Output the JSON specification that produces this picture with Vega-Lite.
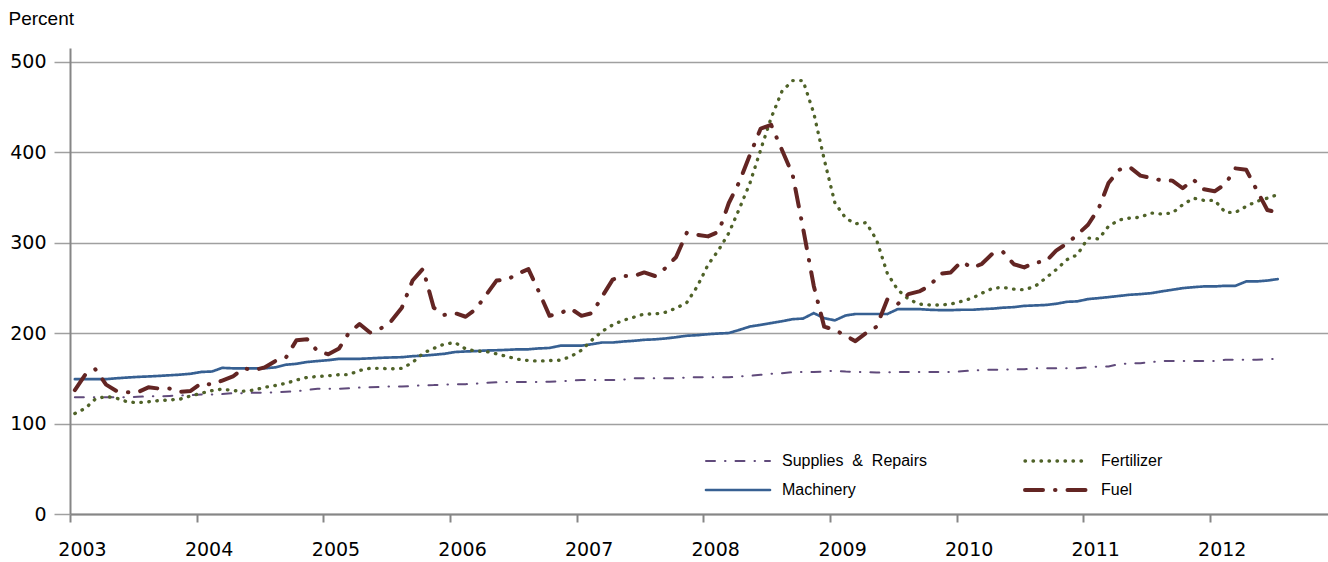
{
  "$schema": "https://vega.github.io/schema/vega-lite/v6.json",
  "width": 1258,
  "height": 466,
  "autosize": {"type": "none"},
  "padding": {"left": 70, "top": 48, "right": 0, "bottom": 48},
  "background": "#ffffff",
  "config": {
    "view": {"stroke": null},
    "font": "Liberation Sans"
  },
  "data": {
    "values": [
      {"date":"2003-01-15","sup":129,"mach":149,"fert":111,"fuel":137},
      {"date":"2003-02-15","sup":129,"mach":149,"fert":117,"fuel":154.5},
      {"date":"2003-03-15","sup":129,"mach":149,"fert":127,"fuel":160},
      {"date":"2003-04-15","sup":129,"mach":149,"fert":130,"fuel":143},
      {"date":"2003-05-15","sup":129,"mach":150,"fert":128,"fuel":136},
      {"date":"2003-06-15","sup":129,"mach":150.8,"fert":124,"fuel":134.6},
      {"date":"2003-07-15","sup":129.5,"mach":151.5,"fert":123,"fuel":134.6},
      {"date":"2003-08-15","sup":130,"mach":152,"fert":124,"fuel":140},
      {"date":"2003-09-15","sup":130,"mach":152.6,"fert":125.4,"fuel":138.6},
      {"date":"2003-10-15","sup":130.5,"mach":153.3,"fert":126,"fuel":138.6},
      {"date":"2003-11-15","sup":131,"mach":154,"fert":127,"fuel":135},
      {"date":"2003-12-15","sup":131.5,"mach":155,"fert":130.5,"fuel":136},
      {"date":"2004-01-15","sup":132,"mach":157,"fert":133.5,"fuel":144.5},
      {"date":"2004-02-15","sup":132,"mach":157.5,"fert":136.4,"fuel":143},
      {"date":"2004-03-15","sup":132.5,"mach":161.5,"fert":138,"fuel":147.5},
      {"date":"2004-04-15","sup":133.5,"mach":161,"fert":136.4,"fuel":152},
      {"date":"2004-05-15","sup":133.5,"mach":161,"fert":135.7,"fuel":161},
      {"date":"2004-06-15","sup":134,"mach":161,"fert":137,"fuel":159},
      {"date":"2004-07-15","sup":134,"mach":161,"fert":140,"fuel":162},
      {"date":"2004-08-15","sup":134.5,"mach":162,"fert":142,"fuel":169},
      {"date":"2004-09-15","sup":135,"mach":165,"fert":144.5,"fuel":173},
      {"date":"2004-10-15","sup":135.7,"mach":166,"fert":148,"fuel":192},
      {"date":"2004-11-15","sup":137,"mach":168,"fert":151,"fuel":193},
      {"date":"2004-12-15","sup":138.5,"mach":169,"fert":152,"fuel":180},
      {"date":"2005-01-15","sup":138.5,"mach":170,"fert":152.7,"fuel":176.5},
      {"date":"2005-02-15","sup":138.5,"mach":171.5,"fert":154,"fuel":183},
      {"date":"2005-03-15","sup":139,"mach":171.5,"fert":154,"fuel":200},
      {"date":"2005-04-15","sup":139.7,"mach":171.5,"fert":158.6,"fuel":210},
      {"date":"2005-05-15","sup":140,"mach":172,"fert":161,"fuel":200.5},
      {"date":"2005-06-15","sup":140.5,"mach":172.6,"fert":161,"fuel":205},
      {"date":"2005-07-15","sup":141,"mach":173,"fert":160.4,"fuel":213},
      {"date":"2005-08-15","sup":141,"mach":173.3,"fert":161,"fuel":228},
      {"date":"2005-09-15","sup":141.5,"mach":174.4,"fert":167.4,"fuel":258},
      {"date":"2005-10-15","sup":142.3,"mach":175,"fert":177.7,"fuel":271},
      {"date":"2005-11-15","sup":142.5,"mach":176,"fert":183,"fuel":228},
      {"date":"2005-12-15","sup":143,"mach":177,"fert":187.7,"fuel":220},
      {"date":"2006-01-15","sup":143.4,"mach":179,"fert":189.5,"fuel":222},
      {"date":"2006-02-15","sup":143.5,"mach":179.6,"fert":182.5,"fuel":218},
      {"date":"2006-03-15","sup":144,"mach":180,"fert":180,"fuel":226},
      {"date":"2006-04-15","sup":145,"mach":180.7,"fert":179.6,"fuel":242},
      {"date":"2006-05-15","sup":145.5,"mach":181,"fert":177,"fuel":258},
      {"date":"2006-06-15","sup":146,"mach":181.4,"fert":174,"fuel":259},
      {"date":"2006-07-15","sup":146,"mach":182,"fert":171,"fuel":265.5},
      {"date":"2006-08-15","sup":146,"mach":182,"fert":169.6,"fuel":270.7},
      {"date":"2006-09-15","sup":146,"mach":183,"fert":169,"fuel":245},
      {"date":"2006-10-15","sup":146.2,"mach":183.5,"fert":169.6,"fuel":219},
      {"date":"2006-11-15","sup":146.5,"mach":186,"fert":170,"fuel":222},
      {"date":"2006-12-15","sup":147.5,"mach":186,"fert":174,"fuel":227},
      {"date":"2007-01-15","sup":148,"mach":186,"fert":181,"fuel":219},
      {"date":"2007-02-15","sup":148,"mach":187.7,"fert":192.5,"fuel":222},
      {"date":"2007-03-15","sup":148,"mach":189.5,"fert":201.7,"fuel":240},
      {"date":"2007-04-15","sup":148,"mach":189.5,"fert":209,"fuel":259},
      {"date":"2007-05-15","sup":148.5,"mach":190.6,"fert":214,"fuel":263},
      {"date":"2007-06-15","sup":150,"mach":191.4,"fert":217.5,"fuel":263},
      {"date":"2007-07-15","sup":150,"mach":192.5,"fert":221,"fuel":267},
      {"date":"2007-08-15","sup":150,"mach":193,"fert":221,"fuel":263},
      {"date":"2007-09-15","sup":150,"mach":194,"fert":223,"fuel":272},
      {"date":"2007-10-15","sup":150,"mach":195.4,"fert":227.5,"fuel":284},
      {"date":"2007-11-15","sup":151,"mach":197,"fert":233.8,"fuel":311},
      {"date":"2007-12-15","sup":151,"mach":197.6,"fert":251.5,"fuel":308.6},
      {"date":"2008-01-15","sup":151,"mach":198.7,"fert":275.4,"fuel":306.8},
      {"date":"2008-02-15","sup":151,"mach":199.5,"fert":292,"fuel":312},
      {"date":"2008-03-15","sup":151,"mach":200,"fert":310.5,"fuel":343.7},
      {"date":"2008-04-15","sup":152,"mach":203.5,"fert":338,"fuel":367.6},
      {"date":"2008-05-15","sup":152.7,"mach":207.2,"fert":365.8,"fuel":397},
      {"date":"2008-06-15","sup":153.8,"mach":209,"fert":402.7,"fuel":426},
      {"date":"2008-07-15","sup":155,"mach":211,"fert":437.7,"fuel":430},
      {"date":"2008-08-15","sup":155.6,"mach":213,"fert":467,"fuel":402.6},
      {"date":"2008-09-15","sup":156.7,"mach":215.3,"fert":479,"fuel":375},
      {"date":"2008-10-15","sup":157,"mach":216,"fert":479,"fuel":316},
      {"date":"2008-11-15","sup":157,"mach":222,"fert":443,"fuel":252},
      {"date":"2008-12-15","sup":157.4,"mach":216.4,"fert":392,"fuel":207},
      {"date":"2009-01-15","sup":158.5,"mach":214,"fert":343.7,"fuel":203.5},
      {"date":"2009-02-15","sup":157.4,"mach":219.4,"fert":327,"fuel":197},
      {"date":"2009-03-15","sup":157,"mach":221,"fert":320.8,"fuel":191},
      {"date":"2009-04-15","sup":157,"mach":221,"fert":322,"fuel":200},
      {"date":"2009-05-15","sup":156.3,"mach":221,"fert":303,"fuel":207},
      {"date":"2009-06-15","sup":156.5,"mach":221,"fert":266,"fuel":237},
      {"date":"2009-07-15","sup":157,"mach":226.4,"fert":247.8,"fuel":232},
      {"date":"2009-08-15","sup":157,"mach":226.4,"fert":237.5,"fuel":243},
      {"date":"2009-09-15","sup":157,"mach":226.4,"fert":232,"fuel":246},
      {"date":"2009-10-15","sup":157,"mach":225.7,"fert":231,"fuel":252},
      {"date":"2009-11-15","sup":157,"mach":225.3,"fert":231,"fuel":265.5},
      {"date":"2009-12-15","sup":157,"mach":225.3,"fert":232,"fuel":267},
      {"date":"2010-01-15","sup":157.8,"mach":225.7,"fert":235,"fuel":279},
      {"date":"2010-02-15","sup":158.5,"mach":225.7,"fert":238.6,"fuel":272},
      {"date":"2010-03-15","sup":159.3,"mach":226.4,"fert":244,"fuel":276.5},
      {"date":"2010-04-15","sup":159.3,"mach":227,"fert":249.6,"fuel":288},
      {"date":"2010-05-15","sup":159.5,"mach":228,"fert":250.4,"fuel":289.5},
      {"date":"2010-06-15","sup":160,"mach":228.6,"fert":248.5,"fuel":276},
      {"date":"2010-07-15","sup":160,"mach":230,"fert":247.8,"fuel":272.5},
      {"date":"2010-08-15","sup":161,"mach":230.5,"fert":251.5,"fuel":278},
      {"date":"2010-09-15","sup":161,"mach":231,"fert":260.7,"fuel":279},
      {"date":"2010-10-15","sup":161,"mach":232.3,"fert":270,"fuel":291},
      {"date":"2010-11-15","sup":161,"mach":234.5,"fert":281,"fuel":299},
      {"date":"2010-12-15","sup":161,"mach":235,"fert":286.5,"fuel":308.6},
      {"date":"2011-01-15","sup":162,"mach":237.5,"fert":305,"fuel":319.7},
      {"date":"2011-02-15","sup":163,"mach":238.6,"fert":304,"fuel":338},
      {"date":"2011-03-15","sup":163,"mach":239.7,"fert":318,"fuel":365.8},
      {"date":"2011-04-15","sup":165.6,"mach":241,"fert":325,"fuel":380.5},
      {"date":"2011-05-15","sup":166.5,"mach":242.3,"fert":327,"fuel":383.5},
      {"date":"2011-06-15","sup":166.7,"mach":243,"fert":328,"fuel":374},
      {"date":"2011-07-15","sup":167.8,"mach":244,"fert":332.6,"fuel":371.3},
      {"date":"2011-08-15","sup":169,"mach":246,"fert":331.5,"fuel":368.7},
      {"date":"2011-09-15","sup":169.2,"mach":247.8,"fert":332.6,"fuel":368.4},
      {"date":"2011-10-15","sup":169.2,"mach":249.6,"fert":341.8,"fuel":360},
      {"date":"2011-11-15","sup":169.2,"mach":250.7,"fert":349,"fuel":369.5},
      {"date":"2011-12-15","sup":169.2,"mach":251.5,"fert":346.6,"fuel":359},
      {"date":"2012-01-15","sup":169.2,"mach":251.5,"fert":346.6,"fuel":356.6},
      {"date":"2012-02-15","sup":170.4,"mach":252.2,"fert":333.3,"fuel":364.7},
      {"date":"2012-03-15","sup":170.4,"mach":252.2,"fert":333.3,"fuel":382},
      {"date":"2012-04-15","sup":170.4,"mach":257,"fert":340,"fuel":380.5},
      {"date":"2012-05-15","sup":170.4,"mach":257,"fert":345.5,"fuel":358.4},
      {"date":"2012-06-15","sup":171,"mach":258,"fert":349,"fuel":336},
      {"date":"2012-07-15","sup":171.5,"mach":259.6,"fert":353,"fuel":333}
    ]
  },
  "transform": [
    {"fold": ["sup", "mach", "fert", "fuel"], "as": ["series", "value"]}
  ],
  "mark": {"type": "line", "strokeCap": "round", "strokeJoin": "round"},
  "encoding": {
    "x": {
      "field": "date",
      "type": "temporal",
      "scale": {
        "type": "utc",
        "domain": [
          {"year": 2003, "month": 1, "date": 1, "utc": true},
          {"year": 2012, "month": 12, "date": 7, "utc": true}
        ]
      },
      "axis": {
        "title": null,
        "values": [
          {"year": 2003, "month": 1, "date": 1, "utc": true},
          {"year": 2004, "month": 1, "date": 1, "utc": true},
          {"year": 2005, "month": 1, "date": 1, "utc": true},
          {"year": 2006, "month": 1, "date": 1, "utc": true},
          {"year": 2007, "month": 1, "date": 1, "utc": true},
          {"year": 2008, "month": 1, "date": 1, "utc": true},
          {"year": 2009, "month": 1, "date": 1, "utc": true},
          {"year": 2010, "month": 1, "date": 1, "utc": true},
          {"year": 2011, "month": 1, "date": 1, "utc": true},
          {"year": 2012, "month": 1, "date": 1, "utc": true}
        ],
        "format": "%Y",
        "grid": false,
        "domainColor": "#868686",
        "domainWidth": 2,
        "tickColor": "#868686",
        "tickWidth": 2,
        "tickSize": 8,
        "labelFont": "DejaVu Sans",
        "labelFontSize": 19,
        "labelColor": "#000000",
        "labelPadding": 18,
        "labelOffset": 12,
        "labelAngle": 0,
        "labelFlush": false,
        "labelOverlap": false
      }
    },
    "y": {
      "field": "value",
      "type": "quantitative",
      "scale": {"domain": [0, 515], "nice": false, "zero": true},
      "axis": {
        "values": [0, 100, 200, 300, 400, 500],
        "title": "Percent",
        "titleAngle": 0,
        "titleAlign": "left",
        "titleBaseline": "middle",
        "titleX": -62,
        "titleY": -30,
        "titleFont": "Liberation Sans",
        "titleFontSize": 19,
        "titleFontWeight": "normal",
        "titleColor": "#000000",
        "grid": true,
        "gridColor": "#a0a0a0",
        "gridWidth": 1.5,
        "domainColor": "#868686",
        "domainWidth": 2,
        "tickColor": "#a0a0a0",
        "tickWidth": 1.5,
        "tickSize": 16,
        "labelFont": "DejaVu Sans",
        "labelFontSize": 19,
        "labelColor": "#000000",
        "labelPadding": 8
      }
    },
    "color": {
      "field": "series",
      "type": "nominal",
      "scale": {
        "domain": ["sup", "mach", "fert", "fuel"],
        "range": ["#604a7b", "#376092", "#4f6228", "#632523"]
      },
      "legend": {
        "orient": "none",
        "legendX": 660,
        "legendY": 405,
        "columns": 2,
        "title": null,
        "padding": 0,
        "symbolType": "M-8,0L8,0",
        "symbolSize": 64,
        "labelFont": "Liberation Sans",
        "labelFontSize": 16,
        "labelColor": "#000000",
        "labelOffset": 36,
        "columnPadding": 90,
        "rowPadding": 13,
        "labelExpr": "datum.label == 'sup' ? 'Supplies\u00a0 &\u00a0 Repairs' : datum.label == 'fert' ? 'Fertilizer' : datum.label == 'mach' ? 'Machinery' : 'Fuel'",
        "encode": {"symbols": {"update": {"strokeCap": {"value": "round"}, "strokeWidth": {"signal": "datum.value == 'sup' ? 2.5 : 4"}}}}
      }
    },
    "strokeDash": {
      "field": "series",
      "type": "nominal",
      "scale": {
        "domain": ["sup", "mach", "fert", "fuel"],
        "range": [[9, 10, 0.5, 10], [1, 0], [0.5, 7.5], [18, 12, 0.5, 12]]
      }
    },
    "strokeWidth": {
      "field": "series",
      "type": "nominal",
      "scale": {
        "domain": ["sup", "mach", "fert", "fuel"],
        "range": [2, 4, 4, 4.2]
      }
    }
  }
}
